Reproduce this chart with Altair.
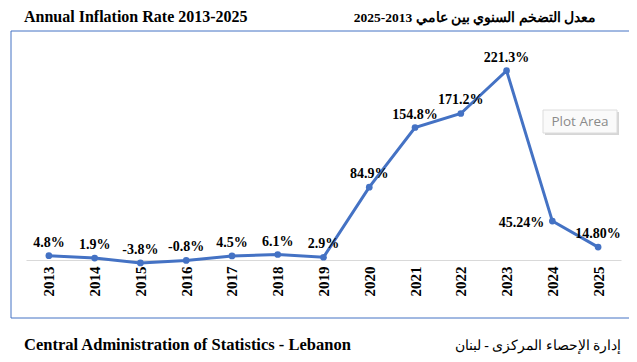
import altair as alt
import pandas as pd

years = ["2013", "2014", "2015", "2016", "2017", "2018", "2019",
         "2020", "2021", "2022", "2023", "2024", "2025"]
values = [4.8, 1.9, -3.8, -0.8, 4.5, 6.1, 2.9, 84.9, 154.8, 171.2, 221.3, 45.24, 14.80]
labels = ["4.8%", "1.9%", "-3.8%", "-0.8%", "4.5%", "6.1%", "2.9%",
          "84.9%", "154.8%", "171.2%", "221.3%", "45.24%", "14.80%"]

title_en = "Annual Inflation Rate 2013-2025"
title_ar = "معدل التضخم السنوي بين عامي 2013-2025"
footer_en = "Central Administration of Statistics - Lebanon"
footer_ar = "إدارة الإحصاء المركزى - لبنان"
tooltip_text = "Plot Area"

df = pd.DataFrame({"year": years, "value": values, "label": labels})

BLUE = "#4472C4"
SERIF = "Liberation Serif"

x = alt.X("year:O",
          scale=alt.Scale(type="point", padding=0.5),
          axis=alt.Axis(title=None, labelAngle=-90, labelFont=SERIF, labelFontWeight="bold",
                        labelFontSize=15, labelColor="black", labelPadding=2,
                        ticks=False, domain=False, grid=False))
y = alt.Y("value:Q", scale=alt.Scale(domain=[-5, 235], nice=False, zero=False),
          axis=alt.Axis(title=None, values=[0], grid=True, gridColor="#d9d9d9",
                        labels=False, ticks=False, domain=False))

line = alt.Chart(df).mark_line(color=BLUE, strokeWidth=3).encode(x=x, y=y)
pts = alt.Chart(df).mark_point(color=BLUE, filled=True, opacity=1, size=45).encode(x=x, y=y)

lab_above = alt.Chart(df).mark_text(font=SERIF, fontWeight="bold", fontSize=14, color="black",
                                    baseline="alphabetic", dy=-9).encode(
    x=x, y=y, text="label:N").transform_filter(alt.datum.year != "2024")
lab_left = alt.Chart(df).mark_text(font=SERIF, fontWeight="bold", fontSize=14, color="black",
                                   align="right", baseline="middle", dx=-8, dy=2).encode(
    x=x, y=y, text="label:N").transform_filter(alt.datum.year == "2024")

def txt(s, xv, yv, align, bold=True, size=16.5, font=SERIF, color="black"):
    return alt.Chart(pd.DataFrame({"t": [s]})).mark_text(
        font=font, fontWeight="bold" if bold else "normal", fontSize=size,
        color=color, align=align, baseline="alphabetic").encode(
        x=alt.value(xv), y=alt.value(yv), text="t:N")

t1 = txt(title_en, -2, -37, "left", size=16)
t2 = txt(title_ar, 570, -37, "right", size=13.5)
f1 = txt(footer_en, -2, 291, "left")
f2 = txt(footer_ar, 595, 291, "right", bold=False, size=13.7)

one = alt.Chart(pd.DataFrame({"t": ["x"]}))

def hrule(x1, x2, yv, color, w=1):
    return one.mark_rule(color=color, strokeWidth=w).encode(
        x=alt.value(x1), x2=alt.value(x2), y=alt.value(yv))

def vrule(xv, y1, y2, color, w=1):
    return one.mark_rule(color=color, strokeWidth=w).encode(
        x=alt.value(xv), y=alt.value(y1), y2=alt.value(y2))

border = [hrule(-15, 606, -28, BLUE), hrule(-15, 606, 259, BLUE),
          vrule(-15, -28, 259, BLUE), vrule(606, -28, 259, BLUE)]

tip = [hrule(519, 593, 64.5, "#d6d6d6", 23),
       hrule(517, 591, 62.5, "#fafafa", 23),
       hrule(517, 591, 51, "#dcdcdc"), hrule(517, 591, 74, "#dcdcdc"),
       vrule(517, 51, 74, "#dcdcdc"), vrule(591, 51, 74, "#dcdcdc"),
       alt.Chart(pd.DataFrame({"t": [tooltip_text]})).mark_text(
           font="Open Sans", fontSize=13.5, color="#8a8a8a", align="center",
           baseline="middle").encode(x=alt.value(554), y=alt.value(63), text="t:N")]

chart = alt.layer(line, pts, lab_above, lab_left, t1, t2, f1, f2, *border, *tip).properties(
    width=595, height=205,
    autosize=alt.AutoSizeParams(type="none"),
    padding={"left": 18, "top": 51, "right": 8, "bottom": 90},
).configure_view(stroke=None)

chart.save("out.html", embed_options={"renderer": "svg", "actions": False})
